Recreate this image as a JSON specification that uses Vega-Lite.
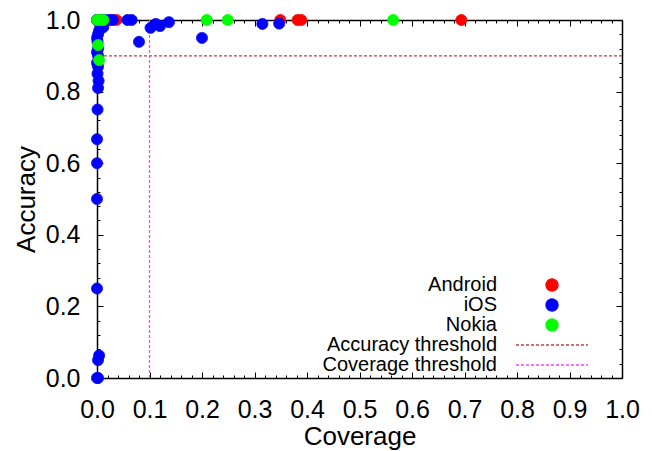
{
  "$schema": "https://vega.github.io/schema/vega-lite/v6.json",
  "width": 525,
  "height": 358,
  "autosize": "none",
  "padding": {"left": 97, "top": 20, "right": 30, "bottom": 73},
  "background": "white",
  "config": {
    "view": {"stroke": null},
    "font": "Liberation Sans",
    "axis": {"grid": false, "domainColor": "black", "domainWidth": 1.5, "tickColor": "black", "tickWidth": 1, "labelColor": "black", "titleColor": "black", "labelFont": "Liberation Sans", "titleFont": "Liberation Sans", "labelFontSize": 25, "titleFontSize": 26, "titleFontWeight": "normal", "labelOverlap": false, "labelFlush": false},
    "legend": {"orient": "none", "legendX": 445, "legendY": 255, "title": null, "padding": 0, "offset": 0,
      "labelAlign": "right", "labelOffset": -65, "labelFontSize": 20, "labelFont": "Liberation Sans", "labelColor": "black", "labelLimit": 400,
      "symbolSize": 144, "symbolStrokeWidth": 1.3, "symbolOpacity": 1, "rowPadding": -4}
  },
  "datasets": {
    "points": [
      {"series": "Android", "coverage": 0.0, "accuracy": 1.0},
      {"series": "Android", "coverage": 0.037, "accuracy": 1.0},
      {"series": "Android", "coverage": 0.349, "accuracy": 1.0},
      {"series": "Android", "coverage": 0.382, "accuracy": 1.0},
      {"series": "Android", "coverage": 0.389, "accuracy": 1.0},
      {"series": "Android", "coverage": 0.694, "accuracy": 1.0},
      {"series": "iOS", "coverage": 0.0, "accuracy": 1.0},
      {"series": "iOS", "coverage": 0.008, "accuracy": 1.0},
      {"series": "iOS", "coverage": 0.016, "accuracy": 1.0},
      {"series": "iOS", "coverage": 0.024, "accuracy": 1.0},
      {"series": "iOS", "coverage": 0.03, "accuracy": 1.0},
      {"series": "iOS", "coverage": 0.058, "accuracy": 1.0},
      {"series": "iOS", "coverage": 0.066, "accuracy": 1.0},
      {"series": "iOS", "coverage": 0.005, "accuracy": 0.99},
      {"series": "iOS", "coverage": 0.012, "accuracy": 0.98},
      {"series": "iOS", "coverage": 0.004, "accuracy": 0.97},
      {"series": "iOS", "coverage": 0.002, "accuracy": 0.96},
      {"series": "iOS", "coverage": 0.0, "accuracy": 0.95},
      {"series": "iOS", "coverage": 0.001, "accuracy": 0.94},
      {"series": "iOS", "coverage": 0.002, "accuracy": 0.92},
      {"series": "iOS", "coverage": 0.0, "accuracy": 0.91},
      {"series": "iOS", "coverage": 0.002, "accuracy": 0.9},
      {"series": "iOS", "coverage": 0.0, "accuracy": 0.88},
      {"series": "iOS", "coverage": 0.002, "accuracy": 0.87},
      {"series": "iOS", "coverage": 0.001, "accuracy": 0.85},
      {"series": "iOS", "coverage": 0.003, "accuracy": 0.83},
      {"series": "iOS", "coverage": 0.002, "accuracy": 0.81},
      {"series": "iOS", "coverage": 0.001, "accuracy": 0.75},
      {"series": "iOS", "coverage": 0.0, "accuracy": 0.667},
      {"series": "iOS", "coverage": 0.0, "accuracy": 0.6},
      {"series": "iOS", "coverage": 0.0, "accuracy": 0.5},
      {"series": "iOS", "coverage": 0.0, "accuracy": 0.25},
      {"series": "iOS", "coverage": 0.004, "accuracy": 0.063},
      {"series": "iOS", "coverage": 0.002, "accuracy": 0.05},
      {"series": "iOS", "coverage": 0.0, "accuracy": 0.0},
      {"series": "iOS", "coverage": 0.002, "accuracy": 0.0},
      {"series": "iOS", "coverage": 0.08, "accuracy": 0.939},
      {"series": "iOS", "coverage": 0.102, "accuracy": 0.978},
      {"series": "iOS", "coverage": 0.112, "accuracy": 0.989},
      {"series": "iOS", "coverage": 0.12, "accuracy": 0.983},
      {"series": "iOS", "coverage": 0.137, "accuracy": 0.994},
      {"series": "iOS", "coverage": 0.2, "accuracy": 0.95},
      {"series": "iOS", "coverage": 0.315, "accuracy": 0.989},
      {"series": "iOS", "coverage": 0.347, "accuracy": 0.99},
      {"series": "Nokia", "coverage": 0.0, "accuracy": 1.0},
      {"series": "Nokia", "coverage": 0.006, "accuracy": 1.0},
      {"series": "Nokia", "coverage": 0.012, "accuracy": 1.0},
      {"series": "Nokia", "coverage": 0.002, "accuracy": 0.93},
      {"series": "Nokia", "coverage": 0.004, "accuracy": 0.888},
      {"series": "Nokia", "coverage": 0.209, "accuracy": 1.0},
      {"series": "Nokia", "coverage": 0.249, "accuracy": 1.0},
      {"series": "Nokia", "coverage": 0.564, "accuracy": 1.0}
    ],
    "accThreshold": [{"series": "Accuracy threshold", "accuracy": 0.9}],
    "covThreshold": [{"series": "Coverage threshold", "coverage": 0.1}]
  },
  "layer": [
    {
      "data": {"name": "accThreshold"},
      "mark": {"type": "rule", "strokeWidth": 1.3, "opacity": 1},
      "encoding": {
        "y": {"field": "accuracy", "type": "quantitative", "scale": {"domain": [0, 1], "nice": false, "zero": false},
          "axis": {"orient": "right", "labels": false, "title": null, "tickSize": -6, "values": [0, 0.2, 0.4, 0.6, 0.8, 1]}},
        "stroke": {"field": "series", "type": "nominal"},
        "strokeDash": {"field": "series", "type": "nominal"}
      }
    },
    {
      "data": {"name": "covThreshold"},
      "mark": {"type": "rule", "strokeWidth": 1.3, "opacity": 1},
      "encoding": {
        "x": {"field": "coverage", "type": "quantitative", "scale": {"domain": [0, 1], "nice": false, "zero": false},
          "axis": {"orient": "top", "labels": false, "title": null, "tickSize": -6, "values": [0, 0.1, 0.2, 0.3, 0.4, 0.5, 0.6, 0.7, 0.8, 0.9, 1]}},
        "stroke": {"field": "series", "type": "nominal"},
        "strokeDash": {"field": "series", "type": "nominal"}
      }
    },
    {
      "data": {"name": "points"},
      "mark": {"type": "point", "filled": true, "size": 120, "strokeWidth": 1, "opacity": 1},
      "encoding": {
        "x": {"field": "coverage", "type": "quantitative", "scale": {"domain": [0, 1], "nice": false, "zero": false},
          "axis": {"orient": "bottom", "title": "Coverage", "labelPadding": 25, "titlePadding": 1, "tickSize": -6, "format": ".1f",
            "values": [0, 0.1, 0.2, 0.3, 0.4, 0.5, 0.6, 0.7, 0.8, 0.9, 1]}},
        "y": {"field": "accuracy", "type": "quantitative", "scale": {"domain": [0, 1], "nice": false, "zero": false},
          "axis": {"orient": "left", "title": "Accuracy", "labelPadding": 23, "titlePadding": 6, "tickSize": -6, "format": ".1f",
            "values": [0, 0.2, 0.4, 0.6, 0.8, 1]}},
        "fill": {"field": "series", "type": "nominal",
          "scale": {"domain": ["Android", "iOS", "Nokia", "Accuracy threshold", "Coverage threshold"], "range": ["#ff0000", "#0000ff", "#00ff00", "#c04040", "#ff40ff"]}},
        "stroke": {"field": "series", "type": "nominal",
          "scale": {"domain": ["Android", "iOS", "Nokia", "Accuracy threshold", "Coverage threshold"], "range": ["#ff0000", "#0000ff", "#00ff00", "#c04040", "#ff40ff"]}},
        "shape": {"field": "series", "type": "nominal",
          "scale": {"domain": ["Android", "iOS", "Nokia", "Accuracy threshold", "Coverage threshold"], "range": ["circle", "circle", "circle", "M-6,0L6,0", "M-6,0L6,0"]}},
        "strokeDash": {"field": "series", "type": "nominal",
          "scale": {"domain": ["Android", "iOS", "Nokia", "Accuracy threshold", "Coverage threshold"], "range": [[1, 0], [1, 0], [1, 0], [3, 2], [3, 2]]}}
      }
    },
    {
      "data": {"name": "points"},
      "mark": {"type": "point", "opacity": 0},
      "encoding": {
        "x": {"field": "coverage", "type": "quantitative", "scale": {"domain": [0, 1], "nice": false, "zero": false},
          "axis": {"orient": "bottom", "labels": false, "title": null, "domain": false, "tickSize": -3,
            "values": [0.02,0.04,0.06,0.08,0.12,0.14,0.16,0.18,0.22,0.24,0.26,0.28,0.32,0.34,0.36,0.38,0.42,0.44,0.46,0.48,0.52,0.54,0.56,0.58,0.62,0.64,0.66,0.68,0.72,0.74,0.76,0.78,0.82,0.84,0.86,0.88,0.92,0.94,0.96,0.98]}},
        "y": {"field": "accuracy", "type": "quantitative", "scale": {"domain": [0, 1], "nice": false, "zero": false},
          "axis": {"orient": "left", "labels": false, "title": null, "domain": false, "tickSize": -3,
            "values": [0.04,0.08,0.12,0.16,0.24,0.28,0.32,0.36,0.44,0.48,0.52,0.56,0.64,0.68,0.72,0.76,0.84,0.88,0.92,0.96]}}
      }
    },
    {
      "data": {"name": "points"},
      "mark": {"type": "point", "opacity": 0},
      "encoding": {
        "x": {"field": "coverage", "type": "quantitative", "scale": {"domain": [0, 1], "nice": false, "zero": false},
          "axis": {"orient": "top", "labels": false, "title": null, "domain": false, "tickSize": -3,
            "values": [0.02,0.04,0.06,0.08,0.12,0.14,0.16,0.18,0.22,0.24,0.26,0.28,0.32,0.34,0.36,0.38,0.42,0.44,0.46,0.48,0.52,0.54,0.56,0.58,0.62,0.64,0.66,0.68,0.72,0.74,0.76,0.78,0.82,0.84,0.86,0.88,0.92,0.94,0.96,0.98]}},
        "y": {"field": "accuracy", "type": "quantitative", "scale": {"domain": [0, 1], "nice": false, "zero": false},
          "axis": {"orient": "right", "labels": false, "title": null, "domain": false, "tickSize": -3,
            "values": [0.04,0.08,0.12,0.16,0.24,0.28,0.32,0.36,0.44,0.48,0.52,0.56,0.64,0.68,0.72,0.76,0.84,0.88,0.92,0.96]}}
      }
    }
  ],
  "resolve": {"axis": {"x": "independent", "y": "independent"}}
}
